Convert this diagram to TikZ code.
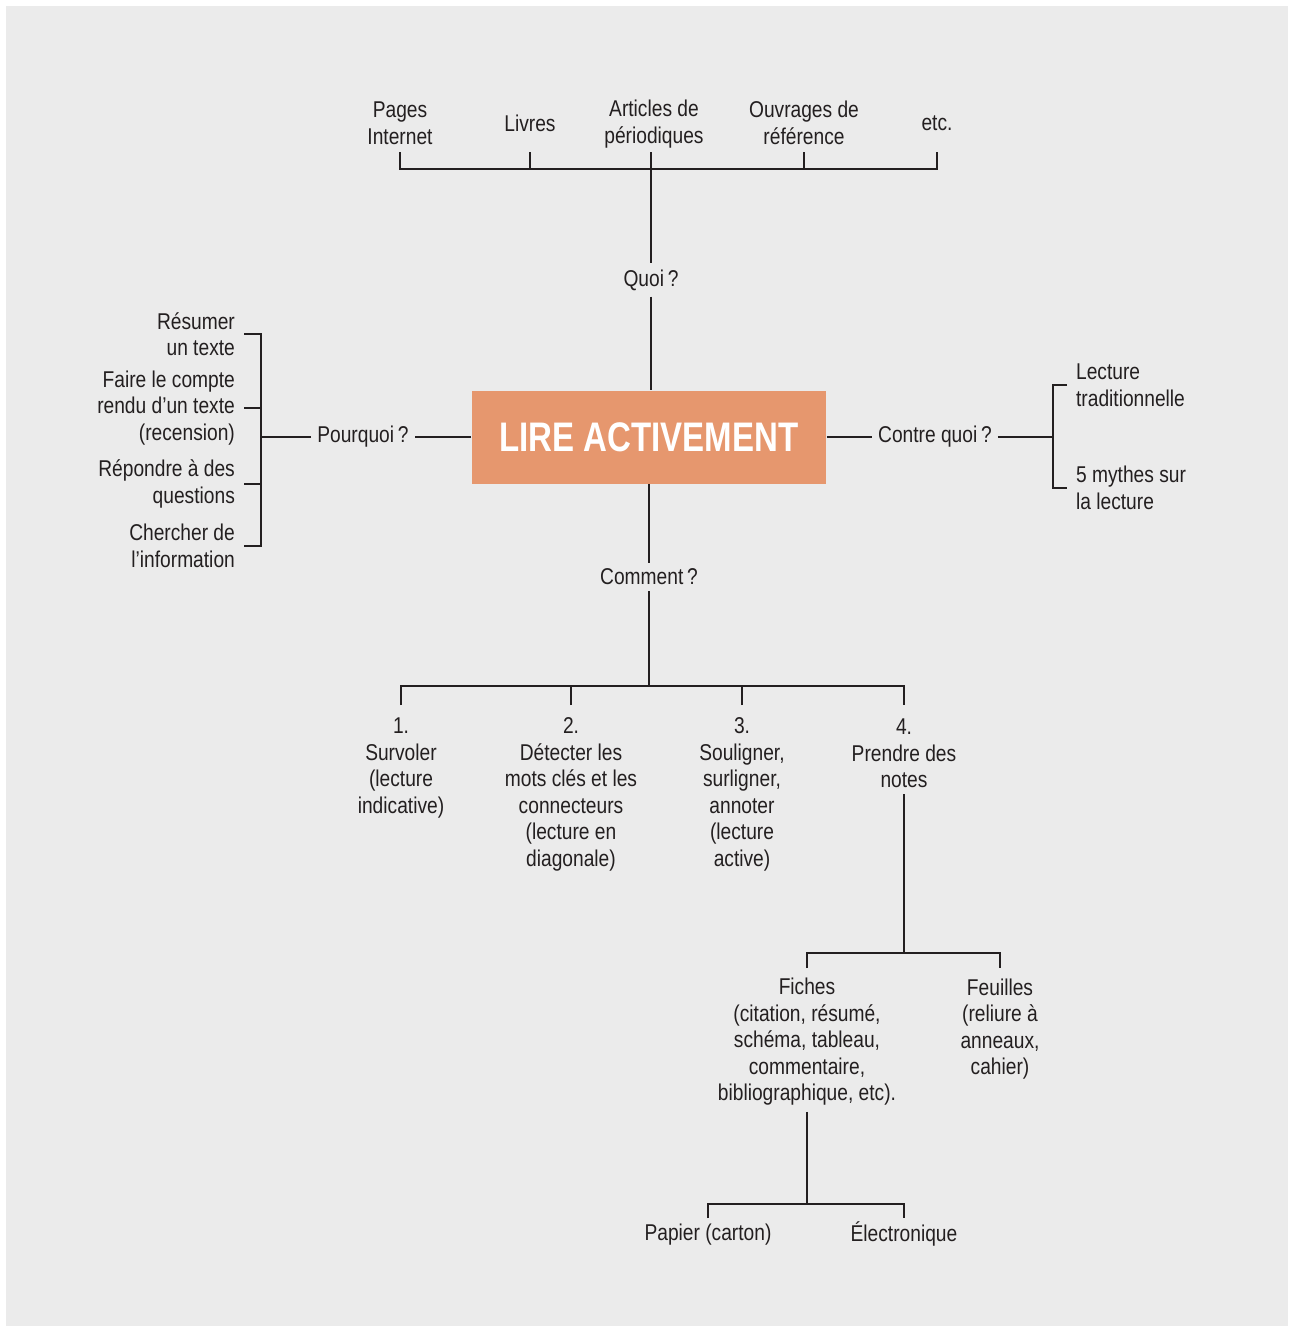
\documentclass[tikz,border=0pt]{standalone}
\usepackage{fontspec}
\setmainfont[FakeStretch=0.84]{Liberation Sans}
\newfontfamily\titlefont[FakeStretch=0.8]{Liberation Sans}
\usepackage{xcolor}
\definecolor{cPaper}{HTML}{EBEBEB}
\definecolor{cAccent}{HTML}{E6976E}
\definecolor{cInk}{HTML}{231F20}
\usepackage{tikz}
\tikzset{
  node-main/.style={fill=cAccent,minimum width=7.1cm,minimum height=1.86cm,
    text=white,font=\titlefont\bfseries\fontsize{23.5}{26}\selectfont},
  node-label/.style={align=center,text=cInk,inner sep=3.3pt,
    font=\fontsize{13}{15.1}\selectfont},
  % listes a gauche / a droite : ancrees sur le trait du crochet
  node-left/.style={node-label,align=right,anchor=east,inner xsep=5pt},
  node-right/.style={node-label,align=left,anchor=west,inner xsep=5pt},
  branch/.style={draw=cInk,line width=1pt},
}

\begin{document}
\begin{tikzpicture}[x=0.02cm,y=-0.02cm]
  \useasboundingbox (0,0) rectangle (1291,1326);
  \fill[cPaper] (6,6) rectangle (1288,1326);

  \node[node-main] (lire) at (649,437) {LIRE ACTIVEMENT};

  % Quoi ?
  \node[node-label] (quoi) at (651,280) {Quoi\,?};
  \node[node-label] (pages)    at (400,123) {Pages\\Internet};
  \node[node-label] (livres)   at (530,123) {Livres};
  \node[node-label] (articles) at (654,124) {Articles de\\périodiques};
  \node[node-label] (ouvrages) at (804,123) {Ouvrages de\\référence};
  \node[node-label] (etc)      at (937,123) {etc.};
  \coordinate (top-tick) at (0,152);
  \coordinate (top-bar) at (651,169);
  \draw[branch] (pages |- top-tick) -- (pages |- top-bar) -- (etc |- top-bar) -- (etc |- top-tick);
  \draw[branch] (livres |- top-tick) -- (livres |- top-bar);
  \draw[branch] (ouvrages |- top-tick) -- (ouvrages |- top-bar);
  \draw[branch] (quoi |- top-tick) -- (quoi);
  \draw[branch] (quoi) -- (quoi |- lire.north);

  % Pourquoi ?
  \node[node-label] (pourquoi) at (363,437) {Pourquoi\,?};
  \coordinate (why-bar) at (261,437);
  \node[node-left] (resumer)  at (244,334) {Résumer\\un texte};
  \node[node-left] (compte)   at (244,408) {Faire le compte\\rendu d’un texte\\(recension)};
  \node[node-left] (repondre) at (244,484) {Répondre à des\\questions};
  \node[node-left] (chercher) at (244,546) {Chercher de\\l’information};
  \draw[branch] (lire) -- (pourquoi);
  \draw[branch] (pourquoi) -- (why-bar);
  \draw[branch] (resumer.east) -- (resumer.east -| why-bar) -- (chercher.east -| why-bar) -- (chercher.east);
  \draw[branch] (compte.east) -- (compte.east -| why-bar);
  \draw[branch] (repondre.east) -- (repondre.east -| why-bar);

  % Contre quoi ?
  \node[node-label] (contre) at (935,437) {Contre quoi\,?};
  \coordinate (against-bar) at (1053,437);
  \node[node-right] (lecture) at (1067,385) {Lecture\\traditionnelle};
  \node[node-right] (mythes)  at (1067,488) {5 mythes sur\\la lecture};
  \draw[branch] (lire) -- (contre);
  \draw[branch] (contre) -- (against-bar);
  \draw[branch] (lecture.west) -- (lecture.west -| against-bar) -- (mythes.west -| against-bar) -- (mythes.west);

  % Comment ?
  \node[node-label] (comment) at (649,577) {Comment\,?};
  \coordinate (how-tick) at (0,705);
  \coordinate (how-bar) at (649,686);
  \node[node-label] (survoler)  at (401,768) {1.\\Survoler\\(lecture\\indicative)};
  \node[node-label] (detecter)  at (571,794.5) {2.\\Détecter les\\mots clés et les\\connecteurs\\(lecture en\\diagonale)};
  \node[node-label] (souligner) at (742,794.5) {3.\\Souligner,\\surligner,\\annoter\\(lecture\\active)};
  \node[node-label] (notes)     at (904,753.5) {4.\\Prendre des\\notes};
  \draw[branch] (lire) -- (comment);
  \draw[branch] (comment) -- (how-bar);
  \draw[branch] (survoler |- how-tick) -- (survoler |- how-bar) -- (notes |- how-bar) -- (notes |- how-tick);
  \draw[branch] (detecter |- how-tick) -- (detecter |- how-bar);
  \draw[branch] (souligner |- how-tick) -- (souligner |- how-bar);

  % prise de notes
  \coordinate (notes-bar) at (904,953);
  \coordinate (notes-tick) at (0,968);
  \node[node-label] (fiches)   at (807,1042) {Fiches\\(citation, résumé,\\schéma, tableau,\\commentaire,\\bibliographique, etc).};
  \node[node-label] (feuilles) at (1000,1029) {Feuilles\\(reliure à\\anneaux,\\cahier)};
  \draw[branch] (notes) -- (notes-bar);
  \draw[branch] (fiches |- notes-tick) -- (fiches |- notes-bar) -- (feuilles |- notes-bar) -- (feuilles |- notes-tick);

  \coordinate (fiches-bar) at (807,1204);
  \coordinate (fiches-tick) at (0,1218);
  \node[node-label] (papier)  at (708,1235) {Papier (carton)};
  \node[node-label] (electro) at (904,1234) {Électronique};
  \draw[branch] (fiches) -- (fiches-bar);
  \draw[branch] (papier |- fiches-tick) -- (papier |- fiches-bar) -- (electro |- fiches-bar) -- (electro |- fiches-tick);
\end{tikzpicture}
\end{document}
